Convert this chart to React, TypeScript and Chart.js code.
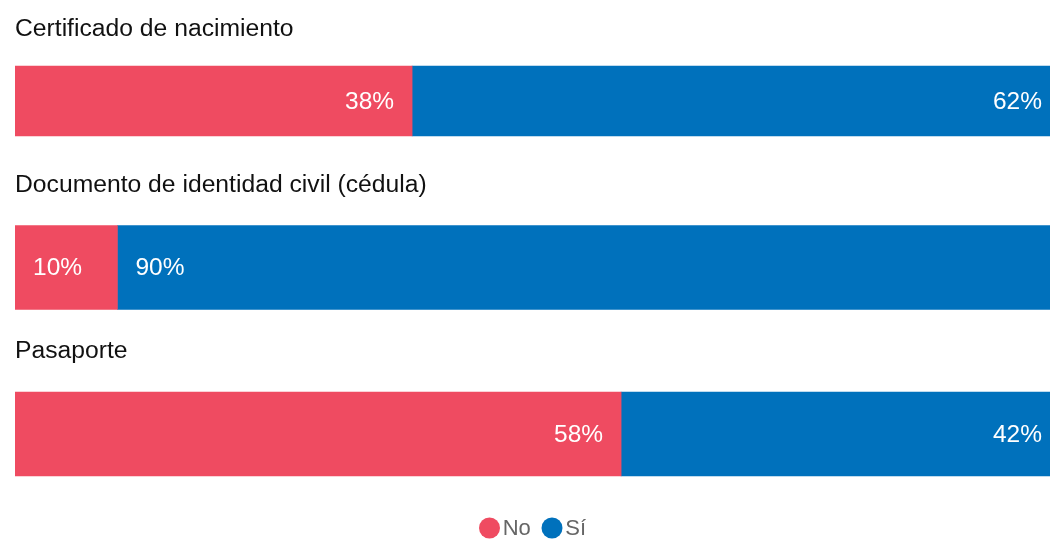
import React, { useEffect, useRef } from 'react';
import { Chart, registerables } from 'chart.js';

Chart.register(...registerables);

// ---- data ----
const categories = [
  'Certificado de nacimiento',
  'Documento de identidad civil (cédula)',
  'Pasaporte',
];
const seriesNames = ['No', 'Sí'];
const noValues = [38, 9.8, 58];
const siValues = [62, 90.2, 42];

// ---- styles ----
const COLORS = ['#EF4B61', '#0071BC'];
const BAR_THICKNESS = [70, 84, 84];
const FONT = '"Liberation Sans", Arial, Helvetica, sans-serif';

const barSizePlugin = {
  id: 'barSize',
  afterDatasetsUpdate(chart: any) {
    chart.data.datasets.forEach((_ds: any, di: number) => {
      const meta = chart.getDatasetMeta(di);
      meta.data.forEach((el: any, i: number) => {
        el.height = BAR_THICKNESS[i] ?? el.height;
      });
    });
  },
};

const labelsPlugin = {
  id: 'labels',
  afterDatasetsDraw(chart: any) {
    const ctx = chart.ctx;
    const area = chart.chartArea;
    const meta0 = chart.getDatasetMeta(0);
    ctx.save();
    // category labels above bars
    ctx.font = `24.7px ${FONT}`;
    ctx.fillStyle = '#111111';
    ctx.textAlign = 'left';
    ctx.textBaseline = 'alphabetic';
    meta0.data.forEach((el: any, i: number) => {
      const top = el.y - el.height / 2;
      ctx.fillText(categories[i], area.left, top - 34 + (84 - el.height) / 4);
    });
    // value labels
    ctx.font = `24.5px ${FONT}`;
    ctx.fillStyle = '#FFFFFF';
    ctx.textBaseline = 'middle';
    chart.data.datasets.forEach((ds: any, di: number) => {
      const meta = chart.getDatasetMeta(di);
      meta.data.forEach((el: any, i: number) => {
        const v = ds.data[i];
        const left = Math.min(el.base, el.x);
        const right = Math.max(el.base, el.x);
        const startAlign = noValues[i] < 15;
        const text = Math.round(v) + '%';
        if (startAlign) {
          ctx.textAlign = 'left';
          ctx.fillText(text, left + 18, el.y + 1);
        } else {
          ctx.textAlign = 'right';
          ctx.fillText(text, right - 18, el.y + 1);
        }
      });
    });
    ctx.restore();
  },
};

const VISIBLE_WIDTH = 1050;

const legendPlugin = {
  id: 'customLegend',
  afterDraw(chart: any) {
    const ctx = chart.ctx;
    const area = chart.chartArea;
    ctx.save();
    ctx.font = `22px ${FONT}`;
    ctx.textBaseline = 'middle';
    ctx.textAlign = 'left';
    const r = 10.5;
    const gapText = 13.2;
    const gapItem = 21.2;
    const names = chart.data.datasets.map((d: any) => d.label);
    const widths = names.map((n: string) => ctx.measureText(n).width);
    let total = r;
    names.forEach((_n: string, i: number) => {
      total += gapText + widths[i];
      if (i < names.length - 1) total += gapItem;
    });
    const cx = (area.left + VISIBLE_WIDTH) / 2;
    const cy = 528;
    let x = cx - total / 2 + r;
    names.forEach((n: string, i: number) => {
      ctx.fillStyle = chart.data.datasets[i].backgroundColor;
      ctx.beginPath();
      ctx.arc(x, cy, r, 0, Math.PI * 2);
      ctx.fill();
      ctx.fillStyle = '#666666';
      ctx.fillText(n, x + gapText, cy + 1);
      x += gapText + widths[i] + gapItem;
    });
    ctx.restore();
  },
};

export default function App() {
  const canvasRef = useRef<HTMLCanvasElement | null>(null);

  useEffect(() => {
    if (!canvasRef.current) return;
    const chart = new Chart(canvasRef.current, {
      type: 'bar',
      data: {
        labels: categories,
        datasets: [
          { label: seriesNames[0], data: noValues, backgroundColor: COLORS[0], borderWidth: 0, barThickness: 84 },
          { label: seriesNames[1], data: siValues, backgroundColor: COLORS[1], borderWidth: 0, barThickness: 84 },
        ],
      },
      options: {
        indexAxis: 'y',
        animation: false,
        responsive: true,
        maintainAspectRatio: false,
        layout: { padding: { left: 15, right: 0, top: 17.75, bottom: 21.75 } },
        scales: {
          x: { stacked: true, min: 0, max: 100, display: false, grid: { display: false } },
          y: { stacked: true, display: false, grid: { display: false } },
        },
        plugins: {
          legend: { display: false },
          tooltip: { enabled: false },
        },
      },
      plugins: [barSizePlugin, labelsPlugin, legendPlugin],
    });
    return () => chart.destroy();
  }, []);

  return (
    <div style={{ position: 'absolute', left: 0, top: 0, width: VISIBLE_WIDTH, height: 539, overflow: 'hidden', background: '#ffffff' }}>
      <div style={{ position: 'relative', width: 1060, height: 539 }}>
        <canvas ref={canvasRef} />
      </div>
    </div>
  );
}
